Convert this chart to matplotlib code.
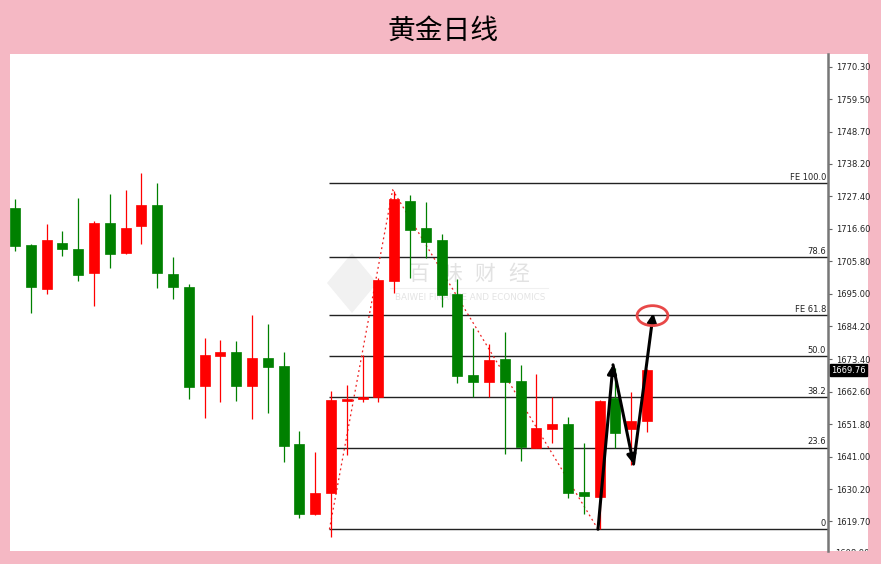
import numpy as np
import matplotlib
matplotlib.use("Agg")
import matplotlib.pyplot as plt
from matplotlib.patches import Ellipse, Rectangle, Polygon
from matplotlib.transforms import Bbox, TransformedBbox, blended_transform_factory

# daily gold candles (red = up, green = down)
opens = [1723.4, 1711.1, 1696.5, 1711.8, 1709.8, 1702.0, 1718.4, 1708.5, 1717.4, 1724.6,
         1701.6, 1697.3, 1664.5, 1674.4, 1675.8, 1664.5, 1673.8, 1671.2, 1645.1, 1622.0,
         1628.9, 1659.6, 1660.3, 1660.7, 1699.3, 1725.8, 1716.7, 1712.8, 1695.0, 1668.1,
         1665.9, 1673.4, 1666.2, 1644.0, 1650.1, 1652.0, 1629.4, 1627.6, 1660.6, 1650.1,
         1652.9]
highs = [1726.5, 1711.4, 1718.1, 1715.7, 1726.8, 1719.2, 1728.1, 1729.4, 1735.0, 1731.7,
         1707.1, 1698.2, 1680.3, 1679.7, 1679.4, 1688.0, 1685.0, 1675.8, 1649.6, 1642.5,
         1662.8, 1664.8, 1674.6, 1700.2, 1729.2, 1727.8, 1725.4, 1714.7, 1699.8, 1683.6,
         1678.3, 1682.3, 1671.4, 1668.3, 1660.7, 1654.3, 1645.5, 1659.8, 1670.3, 1662.6,
         1670.1]
lows = [1709.3, 1688.7, 1694.9, 1707.6, 1699.4, 1691.0, 1703.7, 1708.2, 1711.5, 1696.8,
        1693.2, 1660.1, 1653.8, 1659.3, 1659.6, 1653.4, 1655.4, 1639.4, 1620.6, 1621.7,
        1614.5, 1641.6, 1659.3, 1659.3, 1695.2, 1700.2, 1706.8, 1690.6, 1665.6, 1660.7,
        1660.7, 1641.9, 1639.7, 1644.0, 1645.5, 1627.2, 1622.0, 1617.1, 1643.8, 1638.3,
        1649.3]
closes = [1710.9, 1697.2, 1712.8, 1709.9, 1701.4, 1718.4, 1708.2, 1716.9, 1724.6, 1702.0,
          1697.2, 1664.1, 1674.7, 1675.6, 1664.5, 1673.8, 1670.9, 1644.6, 1622.0, 1629.1,
          1659.8, 1660.3, 1660.6, 1699.6, 1726.3, 1716.2, 1712.3, 1694.6, 1667.8, 1665.9,
          1673.1, 1665.9, 1644.1, 1650.6, 1651.9, 1628.9, 1628.0, 1659.4, 1649.0, 1653.0,
          1669.76]

price_ticks = [1770.30, 1759.50, 1748.70, 1738.20, 1727.40, 1716.60, 1705.80, 1695.00,
               1684.20, 1673.40, 1662.60, 1651.80, 1641.00, 1630.20, 1619.70]
last_price = 1669.76

# fibonacci expansion
fib_low = 1617.0
fib_high = 1731.7
fib_ratios = [0, 23.6, 38.2, 50.0, 61.8, 78.6, 100.0]
fib_labels = ["0", "23.6", "38.2", "50.0", "FE 61.8", "78.6", "FE 100.0"]
fib_start = 19.9

# dotted red zigzag (A -> B -> C) and black projection arrows
zigzag_x = [19.9, 23.9, 36.9]
zigzag_y = [1617.0, 1729.5, 1617.0]
arrow_x = [36.9, 37.85, 39.15, 40.4]
arrow_y = [1617.0, 1671.5, 1638.6, 1688.6]
target_x = 40.35
target_y = 1687.8

W, H = 881, 564
fig = plt.figure(figsize=(W / 100, H / 100), dpi=100)
fig.patch.set_facecolor("#f5b8c4")

# white panel (chart + price scale)
fig.patches.append(Rectangle((10 / W, 13 / H), 858 / W, 497 / H, transform=fig.transFigure,
                             facecolor="white", edgecolor="none", zorder=-1))

ax = fig.add_axes([10 / W, 13 / H, 818 / W, 497 / H])
ax.patch.set_alpha(0)
ax.set_xlim(-0.32, 51.46)
ax.set_ylim(1609.8, 1774.5)

# watermark
ft = fig.transFigure
ax.add_patch(Polygon([[352 / W, 251 / H], [377 / W, 281 / H], [352 / W, 311 / H], [327 / W, 281 / H]],
                     closed=True, transform=ft, facecolor="#f1f1f1", edgecolor="none", zorder=1))
for ch, cx in zip(["百", "味", "财", "经"], [419, 452, 485, 519]):
    ax.text(cx / W, 1 - 274 / H, ch, transform=ft, fontsize=15, color="#e2e2e2", ha="center",
            va="center", family=["Noto Sans CJK SC", "DejaVu Sans"], zorder=1)
ax.text(470 / W, 1 - 297 / H, "BAIWEI FINANCE AND ECONOMICS", transform=ft, fontsize=6.3,
        color="#e4e4e4", ha="center", va="center", zorder=1)
ax.plot([390 / W, 548 / W], [1 - 288 / H, 1 - 288 / H], transform=ft, color="#f0f0f0",
        lw=0.8, zorder=1)

# fib levels
trans = blended_transform_factory(ax.transAxes, ax.transData)
for r, lab in zip(fib_ratios, fib_labels):
    lvl = fib_low + (fib_high - fib_low) * r / 100
    ax.hlines(lvl, fib_start, 51.46, color="#222222", lw=1.0, zorder=2)
    ax.text(0.9975, lvl + 0.5, lab, transform=trans, fontsize=6, color="#222222",
            ha="right", va="bottom", zorder=3)

ax.plot(zigzag_x, zigzag_y, color="#ee2020", lw=0.9, ls=(0, (1.5, 2.5)), zorder=3)

# candles
x = np.arange(len(opens))
o = np.array(opens)
c = np.array(closes)
up = c >= o
colors = np.where(up, "#ff0000", "#008000")
ax.vlines(x, lows, highs, colors=colors, lw=0.9, zorder=4)
body = np.maximum(np.abs(c - o), 0.4)
ax.bar(x, body, bottom=np.minimum(o, c), width=0.63, color=colors, edgecolor=colors,
       lw=0.5, zorder=5)

# projection arrows
for i in range(3):
    ax.annotate("", xy=(arrow_x[i + 1], arrow_y[i + 1]), xytext=(arrow_x[i], arrow_y[i]),
                arrowprops=dict(arrowstyle="-|>", color="black", lw=2.2, mutation_scale=13,
                                shrinkA=0, shrinkB=0), zorder=6)
ax.add_patch(Ellipse((target_x, target_y), 1.95, 6.6, facecolor="none", edgecolor="#e84848",
                     lw=2, zorder=6))

# price scale
for s in ["left", "top", "bottom"]:
    ax.spines[s].set_visible(False)
ax.spines["right"].set_color("#777777")
ax.spines["right"].set_linewidth(1.8)
ax.set_xticks([])
ax.yaxis.tick_right()
ax.set_yticks(price_ticks)
ax.set_yticklabels([f"{p:.2f}" for p in price_ticks])
ax.tick_params(axis="y", direction="out", length=3, width=0.8, color="#666666",
               labelsize=6, labelcolor="#222222", pad=3)

ax.text(1.004, last_price, f"{last_price:.2f}", transform=trans, fontsize=6, color="white",
        ha="left", va="center", zorder=7,
        bbox=dict(boxstyle="square,pad=0.15", facecolor="black", edgecolor="black"))

clip = TransformedBbox(Bbox([[10 / W, 13 / H], [868 / W, 510 / H]]), fig.transFigure)
t = ax.text(1.0085, 1608.9, "1608.90", transform=trans, fontsize=6, color="#222222",
            ha="left", va="center", clip_on=True)
t.set_clip_box(clip)

fig.text(443 / W, 1 - 31 / H, "黄金日线", fontsize=20, color="black", ha="center", va="center",
         family=["Noto Sans CJK SC", "DejaVu Sans"])

fig.savefig("out.png", dpi=100, facecolor=fig.get_facecolor())
